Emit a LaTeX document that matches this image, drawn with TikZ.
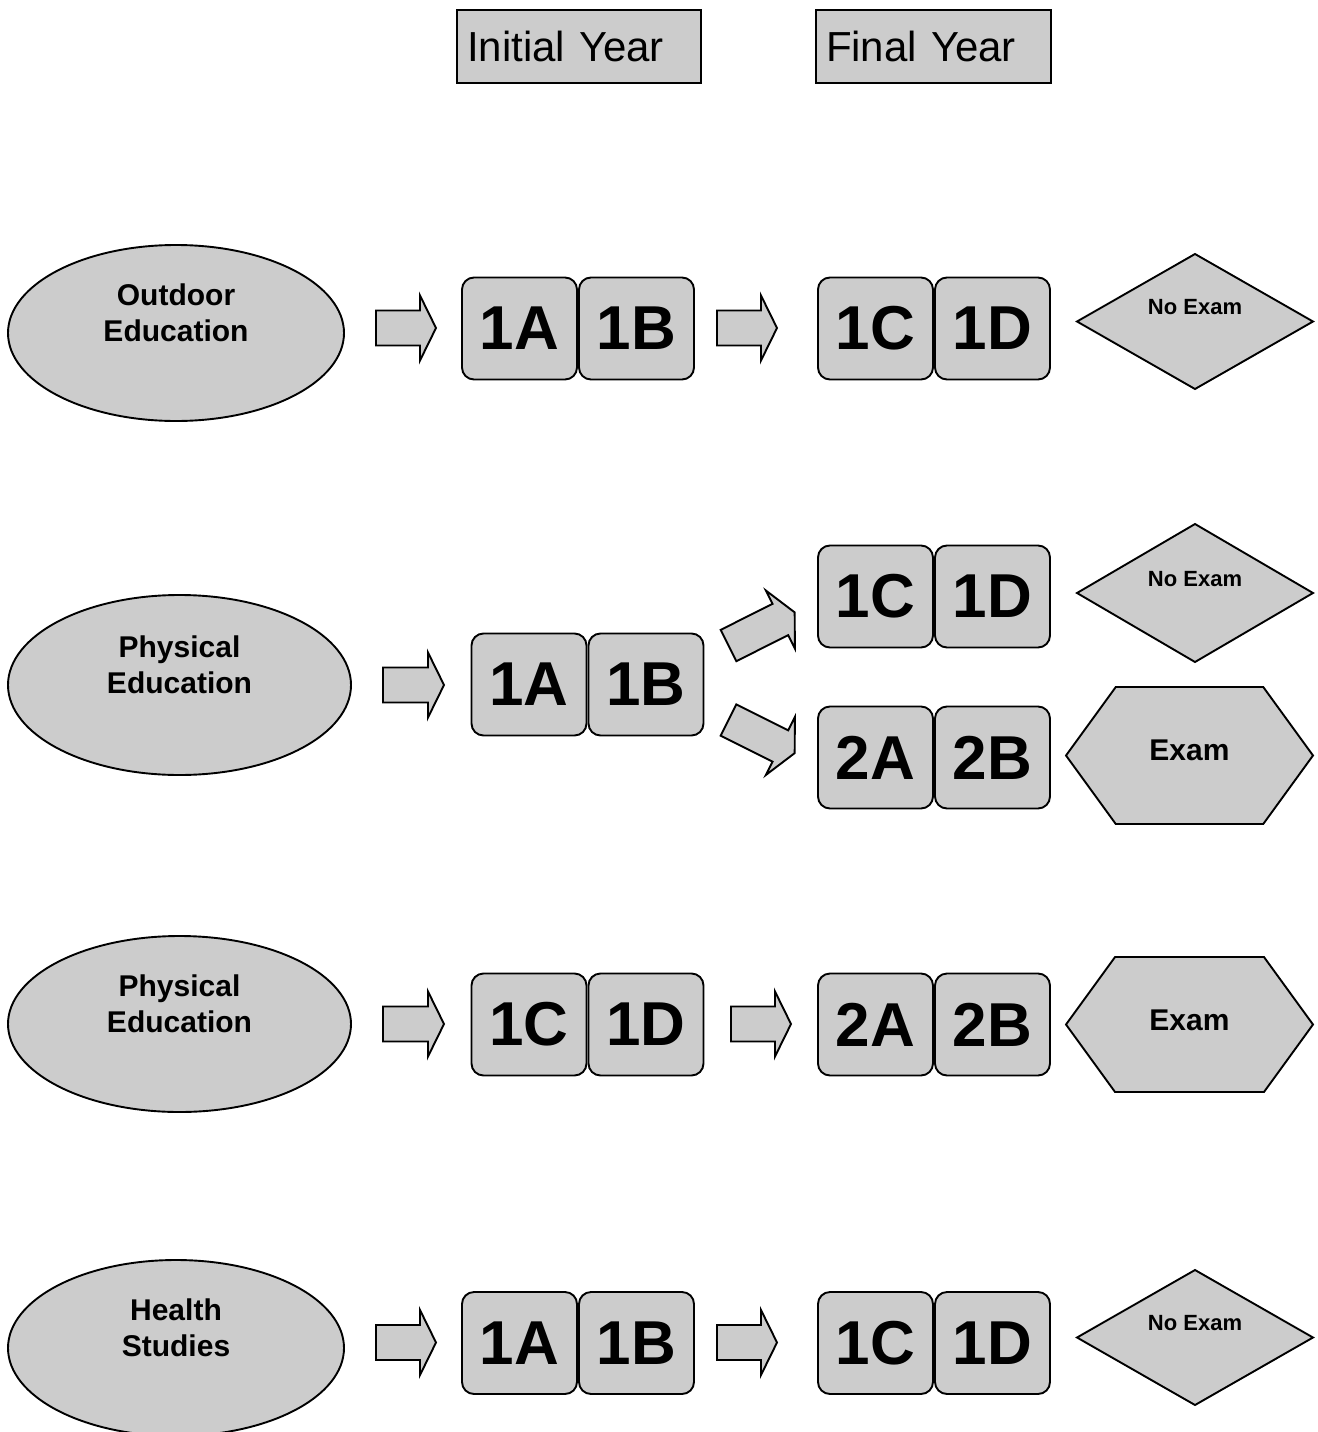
\documentclass[tikz,border=0pt]{standalone}
\usepackage{fontspec}
\setmainfont{Liberation Sans}
\usetikzlibrary{positioning,shapes.geometric,shapes.symbols}
\definecolor{boxgray}{HTML}{CCCCCC}
\newcommand{\lifted}[2]{\raisebox{#1}[0pt][0pt]{#2}}
\newcommand{\twolines}[2]{\lifted{10pt}{\begin{tabular}{@{}c@{}}#1\\#2\end{tabular}}}

\begin{document}
\begin{tikzpicture}[x=1pt,y=-1pt,line width=1.9pt,
every node/.style={inner sep=0pt,outer sep=0pt},
yearbox/.style={draw,fill=boxgray,minimum height=73pt,align=left,font=\fontsize{42}{42}\selectfont},
subj/.style={draw,fill=boxgray,ellipse,minimum width=336pt,minimum height=176pt,font=\fontsize{30}{36}\selectfont\bfseries},
modbox/.style={draw,fill=boxgray,rounded corners=12pt,minimum width=115pt,minimum height=102pt,font=\fontsize{62}{62}\selectfont\bfseries},
noexambox/.style={draw,fill=boxgray,diamond,minimum width=236pt,minimum height=135pt,font=\fontsize{22}{22}\selectfont\bfseries},
exambox/.style={draw,fill=boxgray,signal,signal to=east and west,signal pointer angle=108,minimum width=247pt,minimum height=137pt,font=\fontsize{30}{30}\selectfont\bfseries},
pics/barrow/.style={code={\draw[fill=boxgray] (0,-17.5) -- ({#1-16},-17.5) -- ({#1-16},-32.5) -- (#1,0) -- ({#1-16},32.5) -- ({#1-16},17.5) -- (0,17.5) -- cycle;}}]
\useasboundingbox (0,0) rectangle (1317,1432);
% headers
\node[yearbox,minimum width=244pt,text width=224pt] (initial) at (579,46.5) {Initial Year};
\node[yearbox,minimum width=235pt,text width=215pt] (final) at (933.5,46.5) {Final Year};
% outdoor education
\node[subj] (od) at (176,333) {\twolines{Outdoor}{Education}};
\pic at (376,328) {barrow=60};
\node[modbox] (od1a) at (519.5,328.5) {1A};
\node[modbox,right=2pt of od1a] (od1b) {1B};
\pic at (717,328) {barrow=60};
\node[modbox] (od1c) at (875.5,328.5) {1C};
\node[modbox,right=2pt of od1c] (od1d) {1D};
\node[noexambox] (odx) at (1195,321.5) {\lifted{7pt}{No Exam}};
% physical education, split
\node[subj,minimum width=343pt,minimum height=180pt] (pe) at (179.5,685) {\twolines{Physical}{Education}};
\pic at (383,685) {barrow=61};
\node[modbox] (pe1a) at (529,684.5) {1A};
\node[modbox,right=2pt of pe1a] (pe1b) {1B};
\pic[rotate=26.6] at (728.5,645.5) {barrow=74};
\pic[rotate=-26.6] at (728.5,720) {barrow=74};
\node[modbox] (pe1c) at (875.5,596.5) {1C};
\node[modbox,right=2pt of pe1c] (pe1d) {1D};
\node[modbox] (pe2a) at (875.5,757.5) {2A};
\node[modbox,right=2pt of pe2a] (pe2b) {2B};
\node[noexambox,minimum height=138pt] (pex1) at (1195,593) {\lifted{7pt}{No Exam}};
\node[exambox] (pex2) at (1189.5,755.5) {\lifted{-5pt}{Exam}};
% physical education, second year
\node[subj,minimum width=343pt] (pf) at (179.5,1024) {\twolines{Physical}{Education}};
\pic at (383,1024) {barrow=61};
\node[modbox] (pf1c) at (529,1024.5) {1C};
\node[modbox,right=2pt of pf1c] (pf1d) {1D};
\pic at (731,1024) {barrow=60};
\node[modbox] (pf2a) at (875.5,1024.5) {2A};
\node[modbox,right=2pt of pf2a] (pf2b) {2B};
\node[exambox,minimum height=135pt] (pfx) at (1189.5,1024.5) {\lifted{-6pt}{Exam}};
% health studies
\node[subj] (hs) at (176,1348) {\twolines{Health}{Studies}};
\pic at (376,1342.5) {barrow=60};
\node[modbox] (hs1a) at (519.5,1343) {1A};
\node[modbox,right=2pt of hs1a] (hs1b) {1B};
\pic at (717,1342.5) {barrow=60};
\node[modbox] (hs1c) at (875.5,1343) {1C};
\node[modbox,right=2pt of hs1c] (hs1d) {1D};
\node[noexambox] (hsx) at (1195,1337.5) {\lifted{7pt}{No Exam}};
\end{tikzpicture}
\end{document}
